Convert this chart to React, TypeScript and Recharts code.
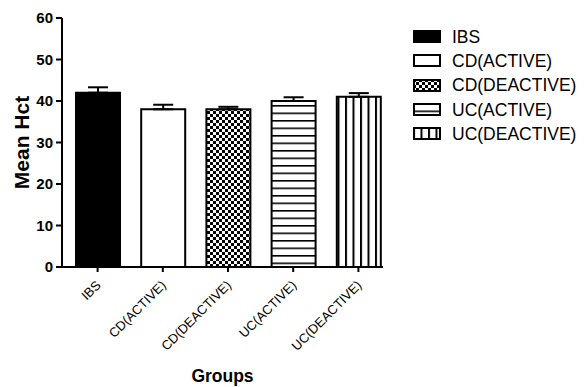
import { BarChart, Bar, XAxis, YAxis, ErrorBar, Cell } from 'recharts';

const groups = ['IBS', 'CD(ACTIVE)', 'CD(DEACTIVE)', 'UC(ACTIVE)', 'UC(DEACTIVE)'];
const meanHct = [42, 38, 38, 40, 41];
const sem = [1.3, 1.1, 0.6, 0.9, 0.9];
const yTicks = [0, 10, 20, 30, 40, 50, 60];

const fills = ['#000', '#fff', 'url(#pat-checker)', 'url(#pat-hlines)', 'url(#pat-vlines)'];
const FONT = 'Arial, "Liberation Sans", sans-serif';

const data = groups.map((g, i) => ({ group: g, hct: meanHct[i], err: [0, sem[i]] }));

function Patterns() {
  return (
    <svg width={0} height={0} style={{ position: 'absolute' }}>
      <defs>
        <pattern id="pat-checker" patternUnits="userSpaceOnUse" width={6} height={6}>
          <rect width={6} height={6} fill="#fff" />
          <rect x={0} y={0} width={3} height={3} fill="#000" />
          <rect x={3} y={3} width={3} height={3} fill="#000" />
        </pattern>
        <pattern id="pat-hlines" patternUnits="userSpaceOnUse" width={8} height={7.5}>
          <rect width={8} height={7.5} fill="#fff" />
          <rect x={0} y={0} width={8} height={1.6} fill="#000" />
        </pattern>
        <pattern id="pat-vlines" patternUnits="userSpaceOnUse" width={7.5} height={8}>
          <rect width={7.5} height={8} fill="#fff" />
          <rect x={0} y={0} width={2} height={8} fill="#000" />
        </pattern>
      </defs>
    </svg>
  );
}

function XTick({ x, y, payload }: any) {
  const px = x + 4;
  const py = y + 12;
  return (
    <text x={px} y={py} textAnchor="end" fontSize={13} fontFamily={FONT} fill="#000"
      transform={`rotate(-45, ${px}, ${py})`}>
      {payload.value}
    </text>
  );
}

function YLabel({ viewBox }: any) {
  const cx = viewBox.x + 21;
  const cy = viewBox.y + viewBox.height / 2;
  return (
    <text x={cx} y={cy} textAnchor="middle" dominantBaseline="central" fontSize={21} fontWeight="bold"
      fontFamily={FONT} fill="#000" transform={`rotate(-90, ${cx}, ${cy})`}>
      Mean Hct
    </text>
  );
}

function Legend() {
  return (
    <div style={{ position: 'absolute', left: 413, top: 25, fontFamily: FONT, fontSize: 17.5, color: '#000' }}>
      {groups.map((g, i) => (
        <div key={g} style={{ display: 'flex', alignItems: 'center', height: 24.3 }}>
          <svg width={28} height={14} style={{ marginRight: 11 }}>
            <rect x={1} y={1} width={26} height={11} fill={fills[i]} stroke="#000" strokeWidth={2} />
          </svg>
          <span>{g}</span>
        </div>
      ))}
    </div>
  );
}

export default function App() {
  return (
    <div style={{ position: 'absolute', left: 0, top: 0, width: 587, height: 387, background: '#fff' }}>
      <Patterns />
      <BarChart width={587} height={387} data={data} margin={{ top: 18, right: 204, left: 0, bottom: 0 }}>
        <XAxis
          dataKey="group"
          height={120}
          interval={0}
          padding={{ left: 3, right: -8 }}
          tick={<XTick />}
          tickSize={5}
          axisLine={{ stroke: '#000', strokeWidth: 2 }}
          tickLine={{ stroke: '#000', strokeWidth: 2 }}
          label={{ value: 'Groups', position: 'insideBottom', offset: 5, fontSize: 17.5, fontWeight: 'bold', fill: '#000', fontFamily: FONT }}
        />
        <YAxis
          width={62}
          domain={[0, 60]}
          ticks={yTicks}
          tickSize={6}
          tickMargin={3}
          tick={{ fontSize: 15, fontWeight: 'bold', fill: '#000', fontFamily: FONT }}
          axisLine={{ stroke: '#000', strokeWidth: 2 }}
          tickLine={{ stroke: '#000', strokeWidth: 2 }}
          label={<YLabel />}
        />
        <Bar dataKey="hct" barSize={44} stroke="#000" strokeWidth={2} isAnimationActive={false}>
          {data.map((d, i) => (
            <Cell key={d.group} fill={fills[i]} />
          ))}
          <ErrorBar dataKey="err" width={10} stroke="#000" strokeWidth={2} direction="y" />
        </Bar>
      </BarChart>
      <Legend />
    </div>
  );
}
